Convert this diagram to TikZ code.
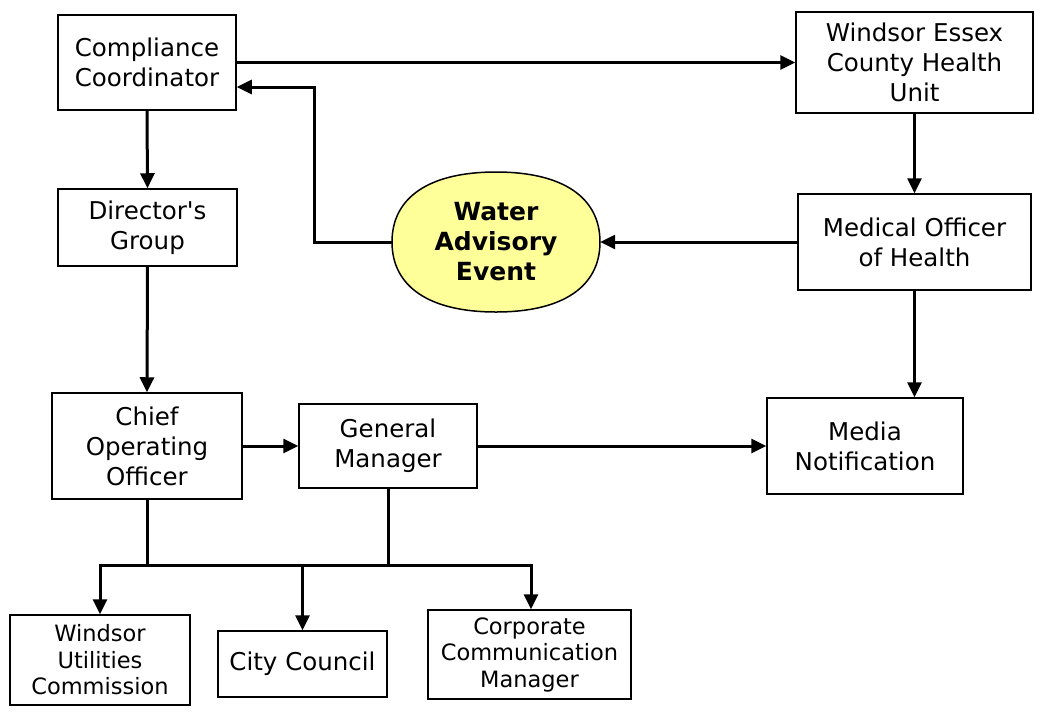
\documentclass[tikz,border=0pt]{standalone}
\usepackage{fontspec}
\setmainfont{DejaVu Sans}
\usetikzlibrary{arrows.meta}
\definecolor{evtfill}{RGB}{255,255,153}
\tikzset{
  box/.style={draw=black, line width=1.5pt, fill=white, align=center, inner sep=0pt,
    font=\fontsize{24.5}{30}\selectfont},
  smallbox/.style={box, font=\fontsize{22.5}{26.5}\selectfont},
  conn/.style={line width=3pt, draw=black},
  arr/.style={conn, -{Triangle[length=15pt,width=14pt]}},
  eventshape/.style={draw=black, line width=1.5pt, fill=evtfill},
  event/.style={draw=none, align=center, inner sep=0pt, font=\fontsize{25}{30}\selectfont\bfseries}
}
\begin{document}
\begin{tikzpicture}[x=1pt,y=-1pt]
\useasboundingbox (0,0) rectangle (1037,713);
\node[box, minimum width=178pt, minimum height=95pt] (cc) at (147,62.5) {Compliance\\Coordinator};
\node[box, minimum width=179pt, minimum height=77pt] (dg) at (147.5,227.5) {Director\textquotesingle s\\Group};
\node[box, minimum width=237pt, minimum height=101pt] (wec) at (914.5,62.5) {Windsor Essex\\County Health\\Unit};
\node[box, minimum width=233pt, minimum height=96pt] (moh) at (914.5,242) {Medical Officer\\of Health};
\node[box, minimum width=196pt, minimum height=96pt] (media) at (865,446) {Media\\Notification};
\node[box, minimum width=190pt, minimum height=106pt] (coo) at (147,446) {Chief\\Operating\\Officer};
\node[box, minimum width=178pt, minimum height=84pt] (gm) at (388,446) {General\\Manager};
\node[smallbox, minimum width=180pt, minimum height=90pt] (wuc) at (100,660) {Windsor\\Utilities\\Commission};
\node[box, minimum width=169pt, minimum height=66pt] (city) at (302.5,664) {City Council};
\node[smallbox, minimum width=203pt, minimum height=89pt] (ccm) at (529.5,654.5) {Corporate\\Communication\\Manager};

\path[eventshape] (392,242) .. controls (392,197.2) and (429.4,172) .. (496,172)
  .. controls (562.6,172) and (600,197.2) .. (600,242)
  .. controls (600,286.8) and (562.6,312) .. (496,312)
  .. controls (429.4,312) and (392,286.8) .. (392,242) -- cycle;
\node[event, minimum width=208pt, minimum height=140pt] (wae) at (496,242) {Water\\Advisory\\Event};

\coordinate (bend) at (314,87);
\coordinate (busL) at (100,565);
\coordinate (busR) at (531,565);

\draw[arr] (cc.east) -- (cc.east -| wec.west);
\draw[arr] (wae.west) -| (bend) -- (bend -| cc.east);
\draw[arr] (cc.south) -- (dg.north);
\draw[arr] (dg.south) -- (coo.north);
\draw[arr] (wec.south) -- (moh.north);
\draw[arr] (moh.west) -- (wae.east);
\draw[arr] (moh.south) -- (moh.south |- media.north);
\draw[arr] (coo.east) -- (gm.west);
\draw[arr] (gm.east) -- (media.west);
\draw[conn] (coo.south) -- (coo.south |- busL);
\draw[conn] (gm.south) -- (gm.south |- busL);
\draw[conn, line cap=rect] (busL) -- (busR);
\draw[arr] (busL) -- (wuc.north);
\draw[arr] (city.north |- busL) -- (city.north);
\draw[arr] (busR) -- (busR |- ccm.north);
\end{tikzpicture}
\end{document}
